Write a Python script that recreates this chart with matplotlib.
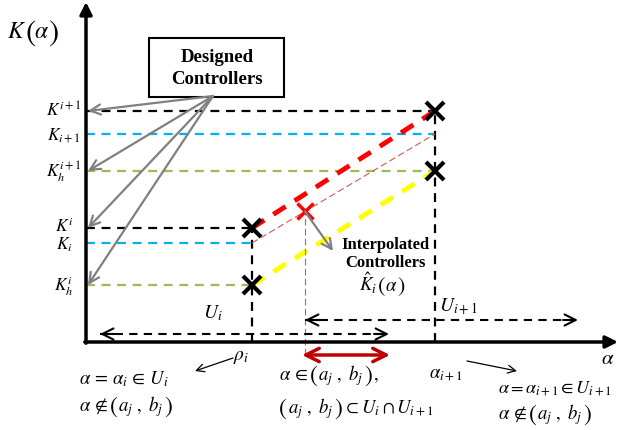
import matplotlib
matplotlib.use('Agg')
import matplotlib.pyplot as plt
from matplotlib.patches import Rectangle

plt.rcParams['mathtext.fontset'] = 'stix'
plt.rcParams['font.family'] = ['Liberation Serif', 'DejaVu Serif']

# scheduling variable positions (origin at the axes corner)
alpha_i = 166
alpha_i1 = 349
alpha_mid = 219          # an alpha inside (a_j, b_j)
a_j, b_j = 216, 304      # overlap interval

# controller levels at alpha_i and alpha_{i+1}
K_up = [114, 231]        # K^i, K^{i+1}
K_mid = [99, 208]        # K_i, K_{i+1}
K_low = [57, 171]        # K_h^i, K_h^{i+1}

# neighbourhoods U_i and U_{i+1} (dashed double arrows)
U_i = [14, 303]
U_i1 = [219, 492]
U_i_y, U_i1_y = 8, 22

left_labels = [r'$K^{i+1}$', r'$K_{i+1}$', r'$K_h^{i+1}$', r'$K^{i}$', r'$K_{i}$', r'$K_h^{i}$']
left_levels = [K_up[1], K_mid[1], K_low[1], K_up[0], K_mid[0], K_low[0]]
left_drop = [5, 5, 5, 3, 6, 5]

BLUE = '#00b0f0'
GREEN = '#9bbb59'
GRAY = '#808080'

fig = plt.figure(figsize=(6.19, 4.31), dpi=100)
ax = fig.add_axes([0, 0, 1, 1])
ax.set_xlim(-86, 533)
ax.set_ylim(-88, 343)
ax.axis('off')
renderer = fig.canvas.get_renderer()


def math_row(x, y, parts, size=13.5, psize=17, pdy=1.5, gap=0.5):
    """Write math pieces one after another; bare ( and ) get drawn taller."""
    inv = ax.transData.inverted()
    for p in parts:
        if p in ('(', ')'):
            t = ax.text(x, y - pdy, '$' + p + '$', fontsize=psize, va='baseline', ha='left')
        else:
            t = ax.text(x, y, '$' + p + '$', fontsize=size, va='baseline', ha='left')
        bb = t.get_window_extent(renderer)
        x += inv.transform((bb.x1, 0))[0] - inv.transform((bb.x0, 0))[0] + gap


dash = (0, (4, 3))

# axes with filled arrow heads
ax.annotate('', xy=(0, 340), xytext=(0, -1.2),
            arrowprops=dict(arrowstyle='-|>', lw=2.5, color='k', mutation_scale=18, shrinkA=0, shrinkB=0))
ax.annotate('', xy=(532, 0), xytext=(-1.2, 0),
            arrowprops=dict(arrowstyle='-|>', lw=2.5, color='k', mutation_scale=18, shrinkA=0, shrinkB=0))

# horizontal levels
for k, c, x_end in [(K_up[1], 'k', alpha_i1), (K_mid[1], BLUE, alpha_i1), (K_low[1], GREEN, alpha_i1),
                    (K_up[0], 'k', alpha_i), (K_mid[0], BLUE, alpha_i), (K_low[0], GREEN, alpha_i)]:
    ax.plot([0, x_end], [k, k], color=c, lw=1.6, linestyle=dash)

# vertical guides at alpha_i and alpha_{i+1}
ax.plot([alpha_i, alpha_i], [0, K_up[0]], color='k', lw=1.6, linestyle=dash)
ax.plot([alpha_i1, alpha_i1], [0, K_up[1]], color='k', lw=1.6, linestyle=dash)

# interpolation lines
ax.plot([alpha_i, alpha_i1], K_up, color='red', lw=3.5, linestyle=(0, (3, 2.2)))
ax.plot([alpha_i, alpha_i1], K_low, color='yellow', lw=3.5, linestyle=(0, (3, 2.2)))
ax.plot([alpha_i, alpha_i1], K_mid, color='#d05a50', lw=0.8, linestyle=(0, (6, 3)))

k_interp = K_mid[0] + (alpha_mid - alpha_i) / (alpha_i1 - alpha_i) * (K_mid[1] - K_mid[0])
ax.plot([alpha_mid, alpha_mid], [-13, k_interp], color='#d05a50', lw=0.8, linestyle=(0, (6, 3)))

# designed controllers (black crosses) and interpolated one (red cross)
ax.plot([alpha_i, alpha_i, alpha_i1, alpha_i1], [K_up[0], K_low[0], K_up[1], K_low[1]],
        linestyle='none', marker='x', ms=13, mew=3, color='k')
ax.plot([alpha_mid], [k_interp], linestyle='none', marker='x', ms=11, mew=2.5, color='red')

# U_i and U_{i+1} dashed double arrows
for (x0, x1), y in [(U_i, U_i_y), (U_i1, U_i1_y)]:
    ax.plot([x0, x1], [y, y], color='k', lw=1.5, linestyle=dash)
    for xe, xs in [(x0, x0 + 15), (x1, x1 - 15)]:
        ax.annotate('', xy=(xe, y), xytext=(xs, y),
                    arrowprops=dict(arrowstyle='->', lw=1.5, color='k', mutation_scale=20, shrinkA=0, shrinkB=0))

# overlap interval (a_j, b_j)
ax.annotate('', xy=(a_j, -13), xytext=(b_j, -13),
            arrowprops=dict(arrowstyle='<->', lw=2.5, color='#c00000', mutation_scale=24, shrinkA=0, shrinkB=0))

# "Designed Controllers" box with pointers
ax.add_patch(Rectangle((63, 245), 135, 59, fill=False, lw=1.5, ec='k'))
ax.text(131, 285, 'Designed', ha='center', va='center', fontsize=13.5, fontweight='bold')
ax.text(131, 264, 'Controllers', ha='center', va='center', fontsize=13.5, fontweight='bold')
for k in [K_up[1], K_low[1], K_up[0], K_low[0]]:
    ax.annotate('', xy=(2, k), xytext=(127, 246),
                arrowprops=dict(arrowstyle='->', lw=1.6, color=GRAY, mutation_scale=18, shrinkA=0, shrinkB=0))

# pointer to the interpolated controller
ax.annotate('', xy=(247, 91), xytext=(alpha_mid, k_interp),
            arrowprops=dict(arrowstyle='->', lw=1.6, color=GRAY, mutation_scale=18, shrinkA=0, shrinkB=0))
ax.text(299, 98, 'Interpolated', ha='center', va='center', fontsize=12, fontweight='bold')
ax.text(299, 80, 'Controllers', ha='center', va='center', fontsize=12, fontweight='bold')
math_row(273, 52, [r'\hat{K}_i', '(', r'\alpha', ')'], size=13.5, psize=16, pdy=1, gap=-0.5)

# axis labels
math_row(-79, 305, ['K', '(', r'\alpha', ')'], size=17, psize=22, pdy=3, gap=-1.5)
ax.text(522, -17, r'$\alpha$', ha='center', va='center', fontsize=15)

for lab, k, d in zip(left_labels, left_levels, left_drop):
    ax.text(-22, k - d, lab, ha='center', va='baseline', fontsize=12.5)

ax.text(127, 30, r'$U_i$', ha='center', va='center', fontsize=14)
ax.text(372, 36, r'$U_{i+1}$', ha='center', va='center', fontsize=14)

# annotations below the alpha axis
ax.text(155, -15, r'$\rho_i$', ha='center', va='center', fontsize=14)
ax.annotate('', xy=(109, -29), xytext=(147, -16),
            arrowprops=dict(arrowstyle='->', lw=0.9, color='k', mutation_scale=14, shrinkA=0, shrinkB=0))
math_row(-7, -41, [r'\alpha\,=\,\alpha_i\,\in\,U_i'])
math_row(-7, -68, [r'\alpha\,\notin', '(', r'a_j\ ,\ b_j', ')'])

math_row(193, -37, [r'\alpha\,\in', '(', r'a_j\ ,\ b_j', ')', ','])
math_row(192, -70, ['(', r'a_j\ ,\ b_j', ')', r'\subset U_i \cap U_{i+1}'])

ax.text(360, -32, r'$\alpha_{i+1}$', ha='center', va='center', fontsize=13.5)
ax.annotate('', xy=(431, -29), xytext=(381, -19),
            arrowprops=dict(arrowstyle='->', lw=0.9, color='k', mutation_scale=14, shrinkA=0, shrinkB=0))
math_row(412, -50, [r'\alpha=\alpha_{i+1}\in U_{i+1}'], size=13)
math_row(412, -76, [r'\alpha\,\notin', '(', r'a_j\ ,\ b_j', ')'])

fig.savefig('out.png', dpi=100)
